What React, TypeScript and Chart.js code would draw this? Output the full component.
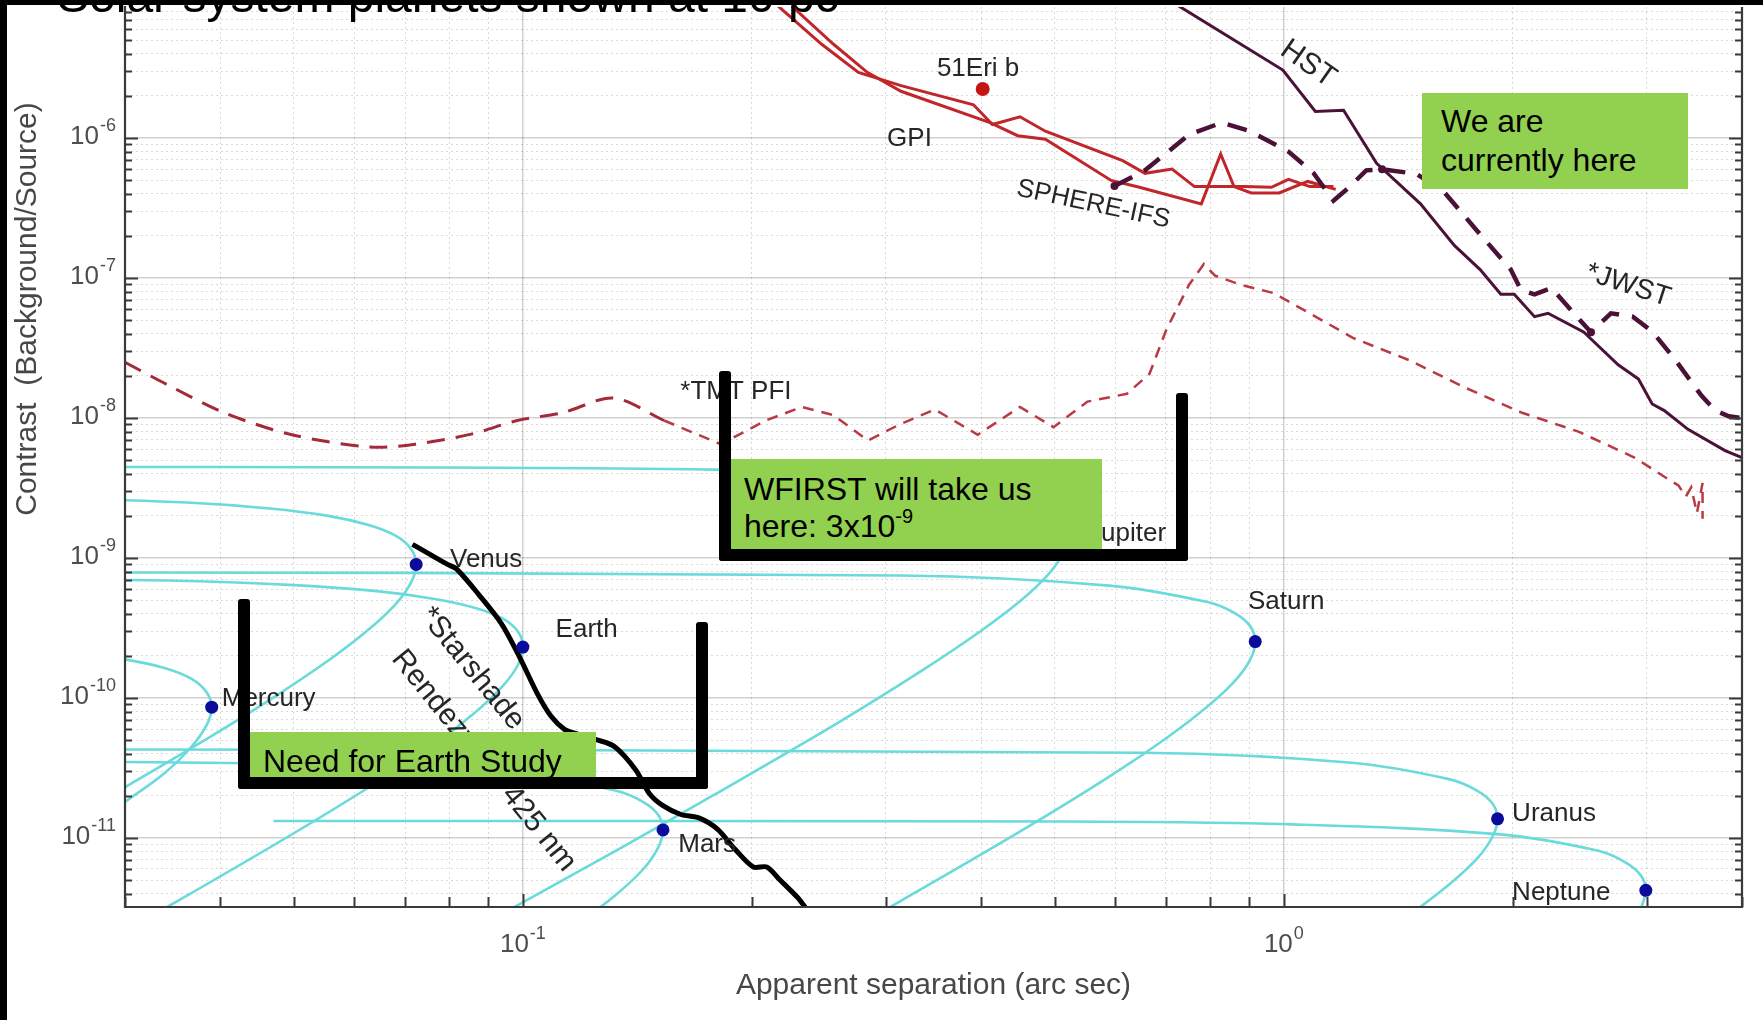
import React, { useEffect, useRef } from 'react';
import { Chart, registerables } from 'chart.js';
Chart.register(...registerables);

const FONT = '"Liberation Sans", Arial, Helvetica, sans-serif';

// ---------------- axes ----------------
const xMin = 0.03;
const xMax = 4;
const yMin = 3.21e-12;
const yMax = 8.64e-6;
const xDecades = [0.01, 0.1, 1];
const yDecades = [1e-12, 1e-11, 1e-10, 1e-9, 1e-8, 1e-7, 1e-6, 1e-5];
const tickMultipliers = [1, 2, 3, 4, 5, 6, 7, 8, 9];
const xTitle = 'Apparent separation (arc sec)';
const yTitle = 'Contrast  (Background/Source)';

// ---------------- planets (quadrature points) ----------------
const planetNames = ['Mercury', 'Venus', 'Earth', 'Mars', 'Jupiter', 'Saturn', 'Uranus', 'Neptune'];
const planetSep = [0.039, 0.0724, 0.1, 0.1528, 0.52, 0.917, 1.909, 2.99];
const planetContrast = [8.6e-11, 9.0e-10, 2.31e-10, 1.14e-11, 1.44e-9, 2.53e-10, 1.37e-11, 4.22e-12];

// ---------------- planet phase curves ----------------
const mercurySep = [0.0282, 0.0298, 0.0338, 0.0367, 0.0384, 0.039, 0.0384, 0.0367, 0.0338, 0.0298, 0.028];
const mercuryContrast = [2.0e-10, 1.9e-10, 1.64e-10, 1.37e-10, 1.1e-10, 8.6e-11, 6.4e-11, 4.5e-11, 2.9e-11, 1.76e-11, 1.36e-11];
const venusSep = [0.0248, 0.0362, 0.0465, 0.0555, 0.0627, 0.0681, 0.0713, 0.0724, 0.0713, 0.0681, 0.0627, 0.0555, 0.0465, 0.0362, 0.0248];
const venusContrast = [2.67e-9, 2.49e-9, 2.26e-9, 2.0e-9, 1.72e-9, 1.44e-9, 1.16e-9, 9.0e-10, 6.7e-10, 4.7e-10, 3.08e-10, 1.85e-10, 9.7e-11, 4.2e-11, 1.26e-11];
const earthSep = [0.0174, 0.0342, 0.05, 0.0643, 0.0766, 0.0866, 0.094, 0.0985, 0.1, 0.0985, 0.094, 0.0866, 0.0766, 0.0643, 0.05, 0.0342, 0.0259];
const earthContrast = [7.2e-10, 6.9e-10, 6.4e-10, 5.8e-10, 5.1e-10, 4.4e-10, 3.7e-10, 2.98e-10, 2.31e-10, 1.72e-10, 1.21e-10, 7.9e-11, 4.7e-11, 2.5e-11, 1.08e-11, 3.24e-12, 1.37e-12];
const marsSep = [0.0133, 0.0523, 0.0983, 0.1323, 0.1436, 0.1505, 0.1528, 0.1505, 0.1436, 0.1323, 0.117];
const marsContrast = [3.56e-11, 3.37e-11, 2.86e-11, 2.18e-11, 1.82e-11, 1.47e-11, 1.14e-11, 8.5e-12, 5.9e-12, 3.9e-12, 2.33e-12];
const jupiterSep = [0.018, 0.178, 0.334, 0.45, 0.489, 0.512, 0.52, 0.512, 0.489, 0.45, 0.398, 0.334, 0.26, 0.178, 0.1346, 0.0903];
const jupiterContrast = [4.5e-9, 4.28e-9, 3.62e-9, 2.76e-9, 2.3e-9, 1.86e-9, 1.44e-9, 1.07e-9, 7.5e-10, 4.9e-10, 2.96e-10, 1.56e-10, 6.7e-11, 2.02e-11, 8.5e-12, 2.55e-12];
const saturnSep = [0.0158, 0.3135, 0.5896, 0.7937, 0.8618, 0.9032, 0.917, 0.9032, 0.8618, 0.7937, 0.702, 0.5896, 0.4585, 0.3135, 0.2376];
const saturnContrast = [7.9e-10, 7.5e-10, 6.35e-10, 4.84e-10, 4.04e-10, 3.26e-10, 2.53e-10, 1.88e-10, 1.32e-10, 8.7e-11, 5.2e-11, 2.74e-11, 1.18e-11, 3.54e-12, 1.5e-12];
const uranusSep = [0.0166, 0.6524, 1.2276, 1.6533, 1.7939, 1.88, 1.909, 1.88, 1.7939, 1.6533, 1.4622];
const uranusContrast = [4.3e-11, 4.06e-11, 3.44e-11, 2.62e-11, 2.18e-11, 1.76e-11, 1.37e-11, 1.02e-11, 7.1e-12, 4.7e-12, 2.8e-12];
const neptuneSep = [0.047, 0.519, 1.0225, 1.9227, 2.59, 2.811, 2.945, 2.99, 2.945];
const neptuneContrast = [1.32e-11, 1.31e-11, 1.25e-11, 1.06e-11, 8.1e-12, 6.7e-12, 5.4e-12, 4.22e-12, 3.1e-12];

// ---------------- instruments ----------------
const eriSep = [0.402];
const eriContrast = [2.24e-6];

const gpiSep = [0.2143, 0.247, 0.276, 0.314, 0.391, 0.414, 0.45, 0.486, 0.614, 0.657, 0.713, 0.763, 0.887, 0.963, 1.014, 1.082, 1.162];
const gpiContrast = [9.2e-6, 4.68e-6, 2.95e-6, 2.37e-6, 1.73e-6, 1.25e-6, 1.42e-6, 1.12e-6, 6.9e-7, 5.6e-7, 6.0e-7, 4.5e-7, 4.5e-7, 4.45e-7, 5.07e-7, 4.5e-7, 4.5e-7];
const sphereSep = [0.2234, 0.256, 0.2835, 0.314, 0.411, 0.447, 0.486, 0.593, 0.646, 0.779, 0.826, 0.86, 0.906, 0.986, 1.075, 1.17];
const sphereContrast = [9.2e-6, 4.68e-6, 2.95e-6, 2.16e-6, 1.29e-6, 1.04e-6, 9.8e-7, 4.98e-7, 4.45e-7, 3.39e-7, 7.7e-7, 4.5e-7, 4.06e-7, 4.06e-7, 4.9e-7, 4.3e-7];

const hstSep = [0.713, 0.997, 1.1, 1.198, 1.324, 1.512, 1.675, 1.811, 1.928, 2.008, 2.135, 2.224, 2.48, 2.533, 2.75, 2.924, 3.048, 3.162, 3.397, 3.8, 4.09];
const hstContrast = [9.4e-6, 3.06e-6, 1.55e-6, 1.58e-6, 6.6e-7, 3.39e-7, 1.71e-7, 1.15e-7, 7.65e-8, 7.65e-8, 5.3e-8, 5.6e-8, 4.1e-8, 3.67e-8, 2.4e-8, 1.9e-8, 1.26e-8, 1.13e-8, 8.3e-9, 5.85e-9, 4.95e-9];

const jwstSep = [0.599, 0.657, 0.751, 0.829, 0.903, 1.014, 1.093, 1.162, 1.219, 1.283, 1.346, 1.492, 1.618, 1.794, 1.987, 2.05, 2.135, 2.247, 2.405, 2.533, 2.69, 2.874, 3.046, 3.262, 3.54, 3.69, 3.843, 4.09];
const jwstContrast = [4.54e-7, 5.88e-7, 1.06e-6, 1.29e-6, 1.12e-6, 8.0e-7, 5.66e-7, 3.57e-7, 4.46e-7, 5.88e-7, 5.98e-7, 5.56e-7, 4.22e-7, 2.18e-7, 1.15e-7, 8.2e-8, 7.65e-8, 8.5e-8, 5.6e-8, 4.1e-8, 5.6e-8, 5.3e-8, 4.17e-8, 2.64e-8, 1.44e-8, 1.13e-8, 1.03e-8, 9.8e-9];
const jwstMarkerIndex = [0, 10, 19];

const tmtInnerSep = [0.03, 0.0341, 0.0405, 0.0497, 0.063, 0.0722, 0.0858, 0.0983, 0.1127, 0.1315, 0.1533];
const tmtInnerContrast = [2.5e-8, 1.73e-8, 1.09e-8, 7.6e-9, 6.2e-9, 6.5e-9, 7.7e-9, 9.6e-9, 1.09e-8, 1.39e-8, 9.6e-9];
const tmtOuterSep = [0.1533, 0.182, 0.2086, 0.2325, 0.256, 0.284, 0.314, 0.348, 0.396, 0.45, 0.498, 0.552, 0.622, 0.666, 0.701, 0.751, 0.785, 0.812, 0.875, 0.97, 1.075, 1.232, 1.461, 1.734, 2.056, 2.438, 2.893, 3.206, 3.3, 3.375, 3.43, 3.49, 3.55, 3.55];
const tmtOuterContrast = [9.6e-9, 6.5e-9, 9.6e-9, 1.2e-8, 1.05e-8, 6.9e-9, 9.1e-9, 1.15e-8, 7.6e-9, 1.2e-8, 8.6e-9, 1.31e-8, 1.49e-8, 2.07e-8, 4.3e-8, 9.0e-8, 1.26e-7, 1.04e-7, 9.0e-8, 7.8e-8, 5.7e-8, 3.74e-8, 2.59e-8, 1.64e-8, 1.09e-8, 8.0e-9, 5.2e-9, 3.63e-9, 3.3e-9, 2.75e-9, 3.19e-9, 2.09e-9, 3.43e-9, 1.91e-9];

const starshadeSep = [0.0716, 0.0755, 0.0796, 0.0818, 0.0875, 0.0937, 0.099, 0.1045, 0.1089, 0.1135, 0.1166, 0.1248, 0.1319, 0.1407, 0.1466, 0.1528, 0.1613, 0.1703, 0.18, 0.19, 0.2008, 0.2092, 0.2172, 0.2293, 0.235];
const starshadeContrast = [1.25e-9, 1.06e-9, 9.0e-10, 8.36e-10, 5.48e-10, 3.4e-10, 1.96e-10, 1.07e-10, 7.4e-11, 5.94e-11, 5.62e-11, 5.04e-11, 4.5e-11, 3.06e-11, 2.08e-11, 1.7e-11, 1.47e-11, 1.39e-11, 1.16e-11, 8.3e-12, 6.2e-12, 6.2e-12, 5.07e-12, 3.78e-12, 3.2e-12];

// ---------------- text annotations (anchored in data space) ----------------
const textAnnotations = [
  { text: 'Mercury', x: 0.0402, y: 9.8e-11, size: 26, align: 'left', rot: 0 },
  { text: 'Venus', x: 0.0802, y: 9.7e-10, size: 26, align: 'left', rot: 0 },
  { text: 'Earth', x: 0.1104, y: 3.05e-10, size: 26, align: 'left', rot: 0 },
  { text: 'Mars', x: 0.16, y: 8.9e-12, size: 26, align: 'left', rot: 0 },
  { text: 'Jupiter', x: 0.553, y: 1.5e-9, size: 26, align: 'left', rot: 0 },
  { text: 'Saturn', x: 0.897, y: 4.9e-10, size: 26, align: 'left', rot: 0 },
  { text: 'Uranus', x: 1.995, y: 1.49e-11, size: 26, align: 'left', rot: 0 },
  { text: 'Neptune', x: 1.995, y: 4.04e-12, size: 26, align: 'left', rot: 0 },
  { text: '51Eri b', x: 0.35, y: 3.1e-6, size: 26, align: 'left', rot: 0 },
  { text: 'GPI', x: 0.301, y: 9.8e-7, size: 26, align: 'left', rot: 0 },
  { text: 'SPHERE-IFS', x: 0.446, y: 4.39e-7, size: 26, align: 'left', rot: 12 },
  { text: '*TMT PFI', x: 0.161, y: 1.54e-8, size: 26, align: 'left', rot: 0 },
  { text: 'HST', x: 1.076, y: 3.38e-6, size: 30, align: 'center', rot: 35 },
  { text: '*JWST', x: 2.834, y: 8.85e-8, size: 28, align: 'center', rot: 18 },
  { text: '*Starshade', x: 0.0857, y: 1.62e-10, size: 30, align: 'center', rot: 51 },
  { text: 'Rendezvous 425 nm', x: 0.0888, y: 3.56e-11, size: 30, align: 'center', rot: 51 },
];

// ---------------- helpers ----------------
const pts = (xs: number[], ys: number[]) => xs.map((x, i) => ({ x, y: ys[i] }));
const isMajor = (v: number) => Math.abs(Math.log10(v) - Math.round(Math.log10(v))) < 1e-6;
const logTicks = (decades: number[], min: number, max: number) => {
  const out: number[] = [];
  decades.forEach((d) => tickMultipliers.forEach((m) => {
    const v = d * m;
    if (v >= min * 0.9999 && v <= max * 1.0001) out.push(v);
  }));
  return out;
};

const CYAN = '#6adada';
const curve = (label: string, xs: number[], ys: number[]) => ({
  label, data: pts(xs, ys), showLine: true, borderColor: CYAN, borderWidth: 2.6,
  pointRadius: 0, tension: 0.35, clip: 0, fill: false,
});

const overlayPlugin = {
  id: 'overlayPlugin',
  afterDatasetsDraw(chart: any) {
    const { ctx, chartArea: a, scales } = chart;
    const xs = scales.x, ys = scales.y;
    ctx.save();
    // text annotations
    for (const t of textAnnotations) {
      const px = xs.getPixelForValue(t.x), py = ys.getPixelForValue(t.y);
      ctx.save();
      ctx.translate(px, py);
      ctx.rotate((t.rot * Math.PI) / 180);
      ctx.font = `${t.size}px ${FONT}`;
      ctx.fillStyle = '#262626';
      ctx.textAlign = t.align;
      ctx.textBaseline = 'middle';
      ctx.fillText(t.text, 0, 0);
      ctx.restore();
    }
    // borders
    ctx.strokeStyle = '#3a3a3a';
    ctx.lineWidth = 2.2;
    ctx.beginPath();
    ctx.moveTo(a.left, a.top); ctx.lineTo(a.left, a.bottom); ctx.lineTo(a.right, a.bottom); ctx.lineTo(a.right, a.top);
    ctx.stroke();
    // inward tick marks
    ctx.lineWidth = 2;
    ctx.beginPath();
    for (const t of ys.ticks) {
      const py = Math.round(ys.getPixelForValue(t.value)) + 0.5;
      const len = isMajor(t.value) ? 13 : 7;
      ctx.moveTo(a.left, py); ctx.lineTo(a.left + len, py);
      ctx.moveTo(a.right, py); ctx.lineTo(a.right - len, py);
    }
    for (const t of xs.ticks) {
      const px = Math.round(xs.getPixelForValue(t.value)) + 0.5;
      const len = isMajor(t.value) ? 13 : 10;
      ctx.moveTo(px, a.bottom); ctx.lineTo(px, a.bottom - len);
    }
    ctx.stroke();
    // tick labels 10^n
    const drawPow = (e: number, px: number, py: number, anchor: 'right' | 'center') => {
      ctx.font = `26px ${FONT}`;
      const wBase = ctx.measureText('10').width;
      ctx.font = `18px ${FONT}`;
      const sup = String(e);
      const wSup = ctx.measureText(sup).width;
      const total = wBase + wSup + 1;
      const x0 = anchor === 'right' ? px - total : px - total / 2;
      ctx.fillStyle = '#4d4d4d';
      ctx.textAlign = 'left';
      ctx.textBaseline = 'alphabetic';
      ctx.font = `26px ${FONT}`;
      ctx.fillText('10', x0, py + 9);
      ctx.font = `18px ${FONT}`;
      ctx.fillText(sup, x0 + wBase + 1, py - 4);
    };
    for (const t of ys.ticks) {
      if (!isMajor(t.value)) continue;
      drawPow(Math.round(Math.log10(t.value)), a.left - 9, ys.getPixelForValue(t.value) - 3, 'right');
    }
    for (const t of xs.ticks) {
      if (!isMajor(t.value)) continue;
      drawPow(Math.round(Math.log10(t.value)), xs.getPixelForValue(t.value), 943, 'center');
    }
    // axis titles
    ctx.fillStyle = '#474747';
    ctx.font = `30px ${FONT}`;
    ctx.textAlign = 'center';
    ctx.textBaseline = 'middle';
    ctx.fillText(xTitle, (a.left + a.right) / 2, 986);
    ctx.save();
    ctx.translate(28, 309);
    ctx.rotate(-Math.PI / 2);
    ctx.fillText(yTitle, 0, 0);
    ctx.restore();
    ctx.restore();
  },
};

const gridOpts = {
  color: (c: any) => (c.tick && isMajor(c.tick.value) ? 'rgba(0,0,0,0.18)' : 'rgba(0,0,0,0.15)'),
  lineWidth: (c: any) => (c.tick && isMajor(c.tick.value) ? 1.5 : 1),
  drawTicks: false,
};
const borderOpts = {
  display: true, color: '#3a3a3a', width: 2,
  dash: (c: any) => (c.tick && !isMajor(c.tick.value) ? [2, 3] : []),
};

export default function App() {
  const ref = useRef<HTMLCanvasElement>(null);
  useEffect(() => {
    const canvas = ref.current;
    if (!canvas) return;
    const datasets: any[] = [
      { label: 'Planets', data: pts(planetSep, planetContrast), showLine: false, pointRadius: 6.5,
        pointBackgroundColor: '#0b0b9c', pointBorderWidth: 0, clip: false },
      { label: '51Eri b', data: pts(eriSep, eriContrast), showLine: false, pointRadius: 7,
        pointBackgroundColor: '#c41414', pointBorderWidth: 0, clip: false },
      { label: 'Starshade', data: pts(starshadeSep, starshadeContrast), showLine: true, borderColor: '#000',
        borderWidth: 5, pointRadius: 0, tension: 0.3, clip: 0 },
      { label: 'HST', data: pts(hstSep, hstContrast), showLine: true, borderColor: '#4a1236', borderWidth: 3,
        pointRadius: 0, tension: 0, clip: 0 },
      { label: 'JWST', data: pts(jwstSep, jwstContrast), showLine: true, borderColor: '#4a1236', borderWidth: 4.5,
        borderDash: [20, 13], tension: 0, clip: 0,
        pointRadius: (c: any) => (jwstMarkerIndex.includes(c.dataIndex) ? 4 : 0),
        pointBackgroundColor: '#4a1236', pointBorderWidth: 0 },
      { label: 'GPI', data: pts(gpiSep, gpiContrast), showLine: true, borderColor: '#c0262a', borderWidth: 3,
        pointRadius: 0, tension: 0, clip: 0 },
      { label: 'SPHERE-IFS', data: pts(sphereSep, sphereContrast), showLine: true, borderColor: '#c0262a', borderWidth: 3,
        pointRadius: 0, tension: 0, clip: 0 },
      { label: 'TMT PFI inner', data: pts(tmtInnerSep, tmtInnerContrast), showLine: true, borderColor: '#a32a3a',
        borderWidth: 3, borderDash: [18, 11], pointRadius: 0, tension: 0.3, clip: 0 },
      { label: 'TMT PFI outer', data: pts(tmtOuterSep, tmtOuterContrast), showLine: true, borderColor: '#b83a44',
        borderWidth: 2.5, borderDash: [11, 8], pointRadius: 0, tension: 0, clip: 0 },
      curve('Mercury', mercurySep, mercuryContrast),
      curve('Venus', venusSep, venusContrast),
      curve('Earth', earthSep, earthContrast),
      curve('Mars', marsSep, marsContrast),
      curve('Jupiter', jupiterSep, jupiterContrast),
      curve('Saturn', saturnSep, saturnContrast),
      curve('Uranus', uranusSep, uranusContrast),
      curve('Neptune', neptuneSep, neptuneContrast),
    ];
    const chart = new Chart(canvas, {
      type: 'scatter',
      data: { datasets },
      options: {
        responsive: false,
        animation: false,
        devicePixelRatio: 1,
        events: [],
        layout: { padding: { left: 0, top: 0, right: 21, bottom: 0 } },
        elements: { line: { capBezierPoints: false } },
        plugins: { legend: { display: false }, tooltip: { enabled: false }, title: { display: false } },
        scales: {
          x: {
            type: 'logarithmic', position: 'bottom', min: xMin, max: xMax,
            ticks: { display: false },
            afterBuildTicks: (s: any) => { s.ticks = logTicks(xDecades, xMin, xMax).map((v) => ({ value: v })); },
            afterFit: (s: any) => { s.height = 113; },
            grid: gridOpts, border: borderOpts,
          },
          y: {
            type: 'logarithmic', position: 'left', min: yMin, max: yMax,
            ticks: { display: false },
            afterBuildTicks: (s: any) => { s.ticks = logTicks(yDecades, yMin, yMax).map((v) => ({ value: v })); },
            afterFit: (s: any) => { s.width = 125; },
            grid: gridOpts, border: borderOpts,
          },
        },
      } as any,
      plugins: [overlayPlugin as any],
    });
    return () => chart.destroy();
  }, []);

  const abs = (s: React.CSSProperties): React.CSSProperties => ({ position: 'absolute', boxSizing: 'border-box', ...s });
  const boxText: React.CSSProperties = { fontFamily: FONT, fontSize: 32, color: '#000', background: '#92d050', whiteSpace: 'nowrap' };
  const bar: React.CSSProperties = { background: '#000', borderRadius: 3 };

  return (
    <div style={{ position: 'fixed', left: 0, top: 0, width: 1763, height: 1020, overflow: 'hidden', background: '#fff' }}>
      <canvas ref={ref} width={1763} height={1020} style={{ position: 'absolute', left: 0, top: 0, width: 1763, height: 1020 }} />
      {/* slide title */}
      <div style={abs({ left: 57, top: -28, fontFamily: FONT, fontSize: 48, lineHeight: '48px', color: '#000', whiteSpace: 'nowrap' })}>
        Solar system planets shown at 10 pc
      </div>
      {/* green call-outs */}
      <div style={abs({ ...boxText, left: 1422, top: 93, width: 266, height: 96, lineHeight: '39px', paddingLeft: 19, paddingTop: 9 })}>
        We are<br />currently here
      </div>
      <div style={abs({ ...boxText, left: 731, top: 459, width: 371, height: 91, lineHeight: '37px', paddingLeft: 13, paddingTop: 12 })}>
        WFIRST will take us<br />here: 3x10<span style={{ fontSize: 20, position: 'relative', top: -14 }}>-9</span>
      </div>
      <div style={abs({ ...boxText, left: 250, top: 732, width: 346, height: 46, lineHeight: '38px', paddingLeft: 13, paddingTop: 10 })}>
        Need for Earth Study
      </div>
      {/* brackets */}
      <div style={abs({ ...bar, left: 238, top: 599, width: 12, height: 190 })} />
      <div style={abs({ ...bar, left: 238, top: 777, width: 470, height: 12 })} />
      <div style={abs({ ...bar, left: 696, top: 622, width: 12, height: 167 })} />
      <div style={abs({ ...bar, left: 719, top: 371, width: 12, height: 190 })} />
      <div style={abs({ ...bar, left: 719, top: 549, width: 469, height: 12 })} />
      <div style={abs({ ...bar, left: 1176, top: 393, width: 12, height: 168 })} />
      {/* black frame edges */}
      <div style={abs({ left: 0, top: 0, width: 1763, height: 5, background: '#000' })} />
      <div style={abs({ left: 0, top: 0, width: 7, height: 1020, background: '#000' })} />
    </div>
  );
}
